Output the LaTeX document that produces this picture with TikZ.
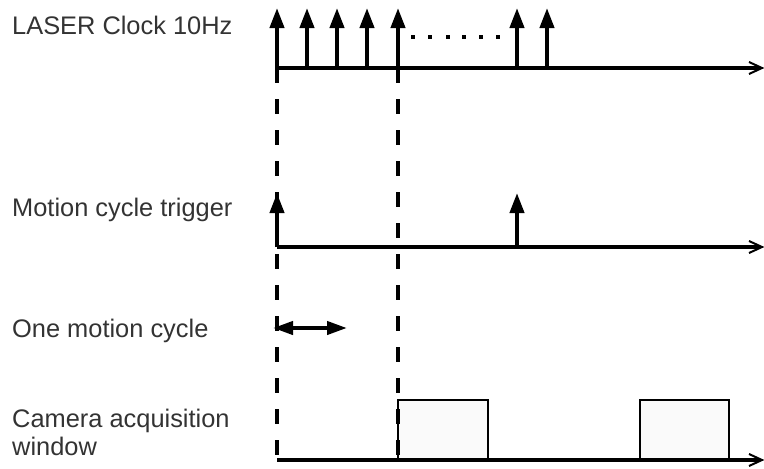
\documentclass[tikz,border=0pt]{standalone}
\usepackage{fontspec}
\setmainfont{Liberation Sans}
\usetikzlibrary{arrows.meta}
\definecolor{labelgray}{HTML}{333333}
\definecolor{boxfill}{HTML}{FAFAFA}
\begin{document}
\begin{tikzpicture}[x=1pt,y=-1pt,
  axis/.style={line width=4pt},
  pulse/.style={line width=4pt,-{Triangle[length=20pt,width=14pt]}},
  guide/.style={line width=4pt,dash pattern=on 15pt off 16pt},
  window/.style={line width=2.5pt,fill=boxfill},
  chev/.style={line width=2pt},
  span/.style={line width=4pt,{Triangle[length=20pt,width=13pt]}-{Triangle[length=20pt,width=13pt]}},
  lbl/.style={font=\fontsize{25.4}{28.7}\selectfont,text=labelgray,anchor=base west,inner sep=0pt,align=left}]
\useasboundingbox (0,0) rectangle (764,469);

% signal labels (a multi-line label sits on its last baseline)
\node[lbl] (lclk) at (12,34.3) {LASER Clock 10Hz};
\node[lbl] (ltrig) at (12,216.7) {Motion cycle trigger};
\node[lbl] (lcyc) at (12,337) {One motion cycle};
\node[lbl] (lcam) at (12,455.7) {Camera acquisition\\window};

% time axes
\coordinate (c0) at (277,68);  \coordinate (c1) at (760,68);
\coordinate (t0) at (277,247); \coordinate (t1) at (760,247);
\coordinate (a0) at (277,460); \coordinate (a1) at (760,460);

% acquisition windows
\draw[window] (398,460) rectangle (488,400);
\draw[window] (640,460) rectangle (729,400);

% vertical guides
\coordinate (g0) at (277,68);  \coordinate (g0e) at (277,460);
\coordinate (g1) at (398,68);  \coordinate (g1e) at (398,460);
\draw[guide] (g0) -- (g0e);
\draw[guide] (g1) -- (g1e);

\draw[axis] (c0) -- (c1);
\draw[axis] (t0) -- (t1);
\draw[axis] (a0) -- (a1);
\foreach \yy in {68,247,460}
  \draw[chev] (749,\yy-6) -- (762,\yy) -- (749,\yy+6);

% laser clock pulses
\foreach \xx in {277,307,337,367,398,517,547}
  \draw[pulse] (\xx,68) -- (\xx,8);
\foreach \xx in {413,430,448,464,481,498}
  \fill (\xx-1.75,35.25) rectangle (\xx+1.75,38.75);

% motion cycle triggers
\foreach \xx in {277,517}
  \draw[pulse] (\xx,247) -- (\xx,193);

% one motion cycle span
\coordinate (s0) at (273,328); \coordinate (s1) at (347,328);
\draw[span] (s0) -- (s1);
\end{tikzpicture}
\end{document}
